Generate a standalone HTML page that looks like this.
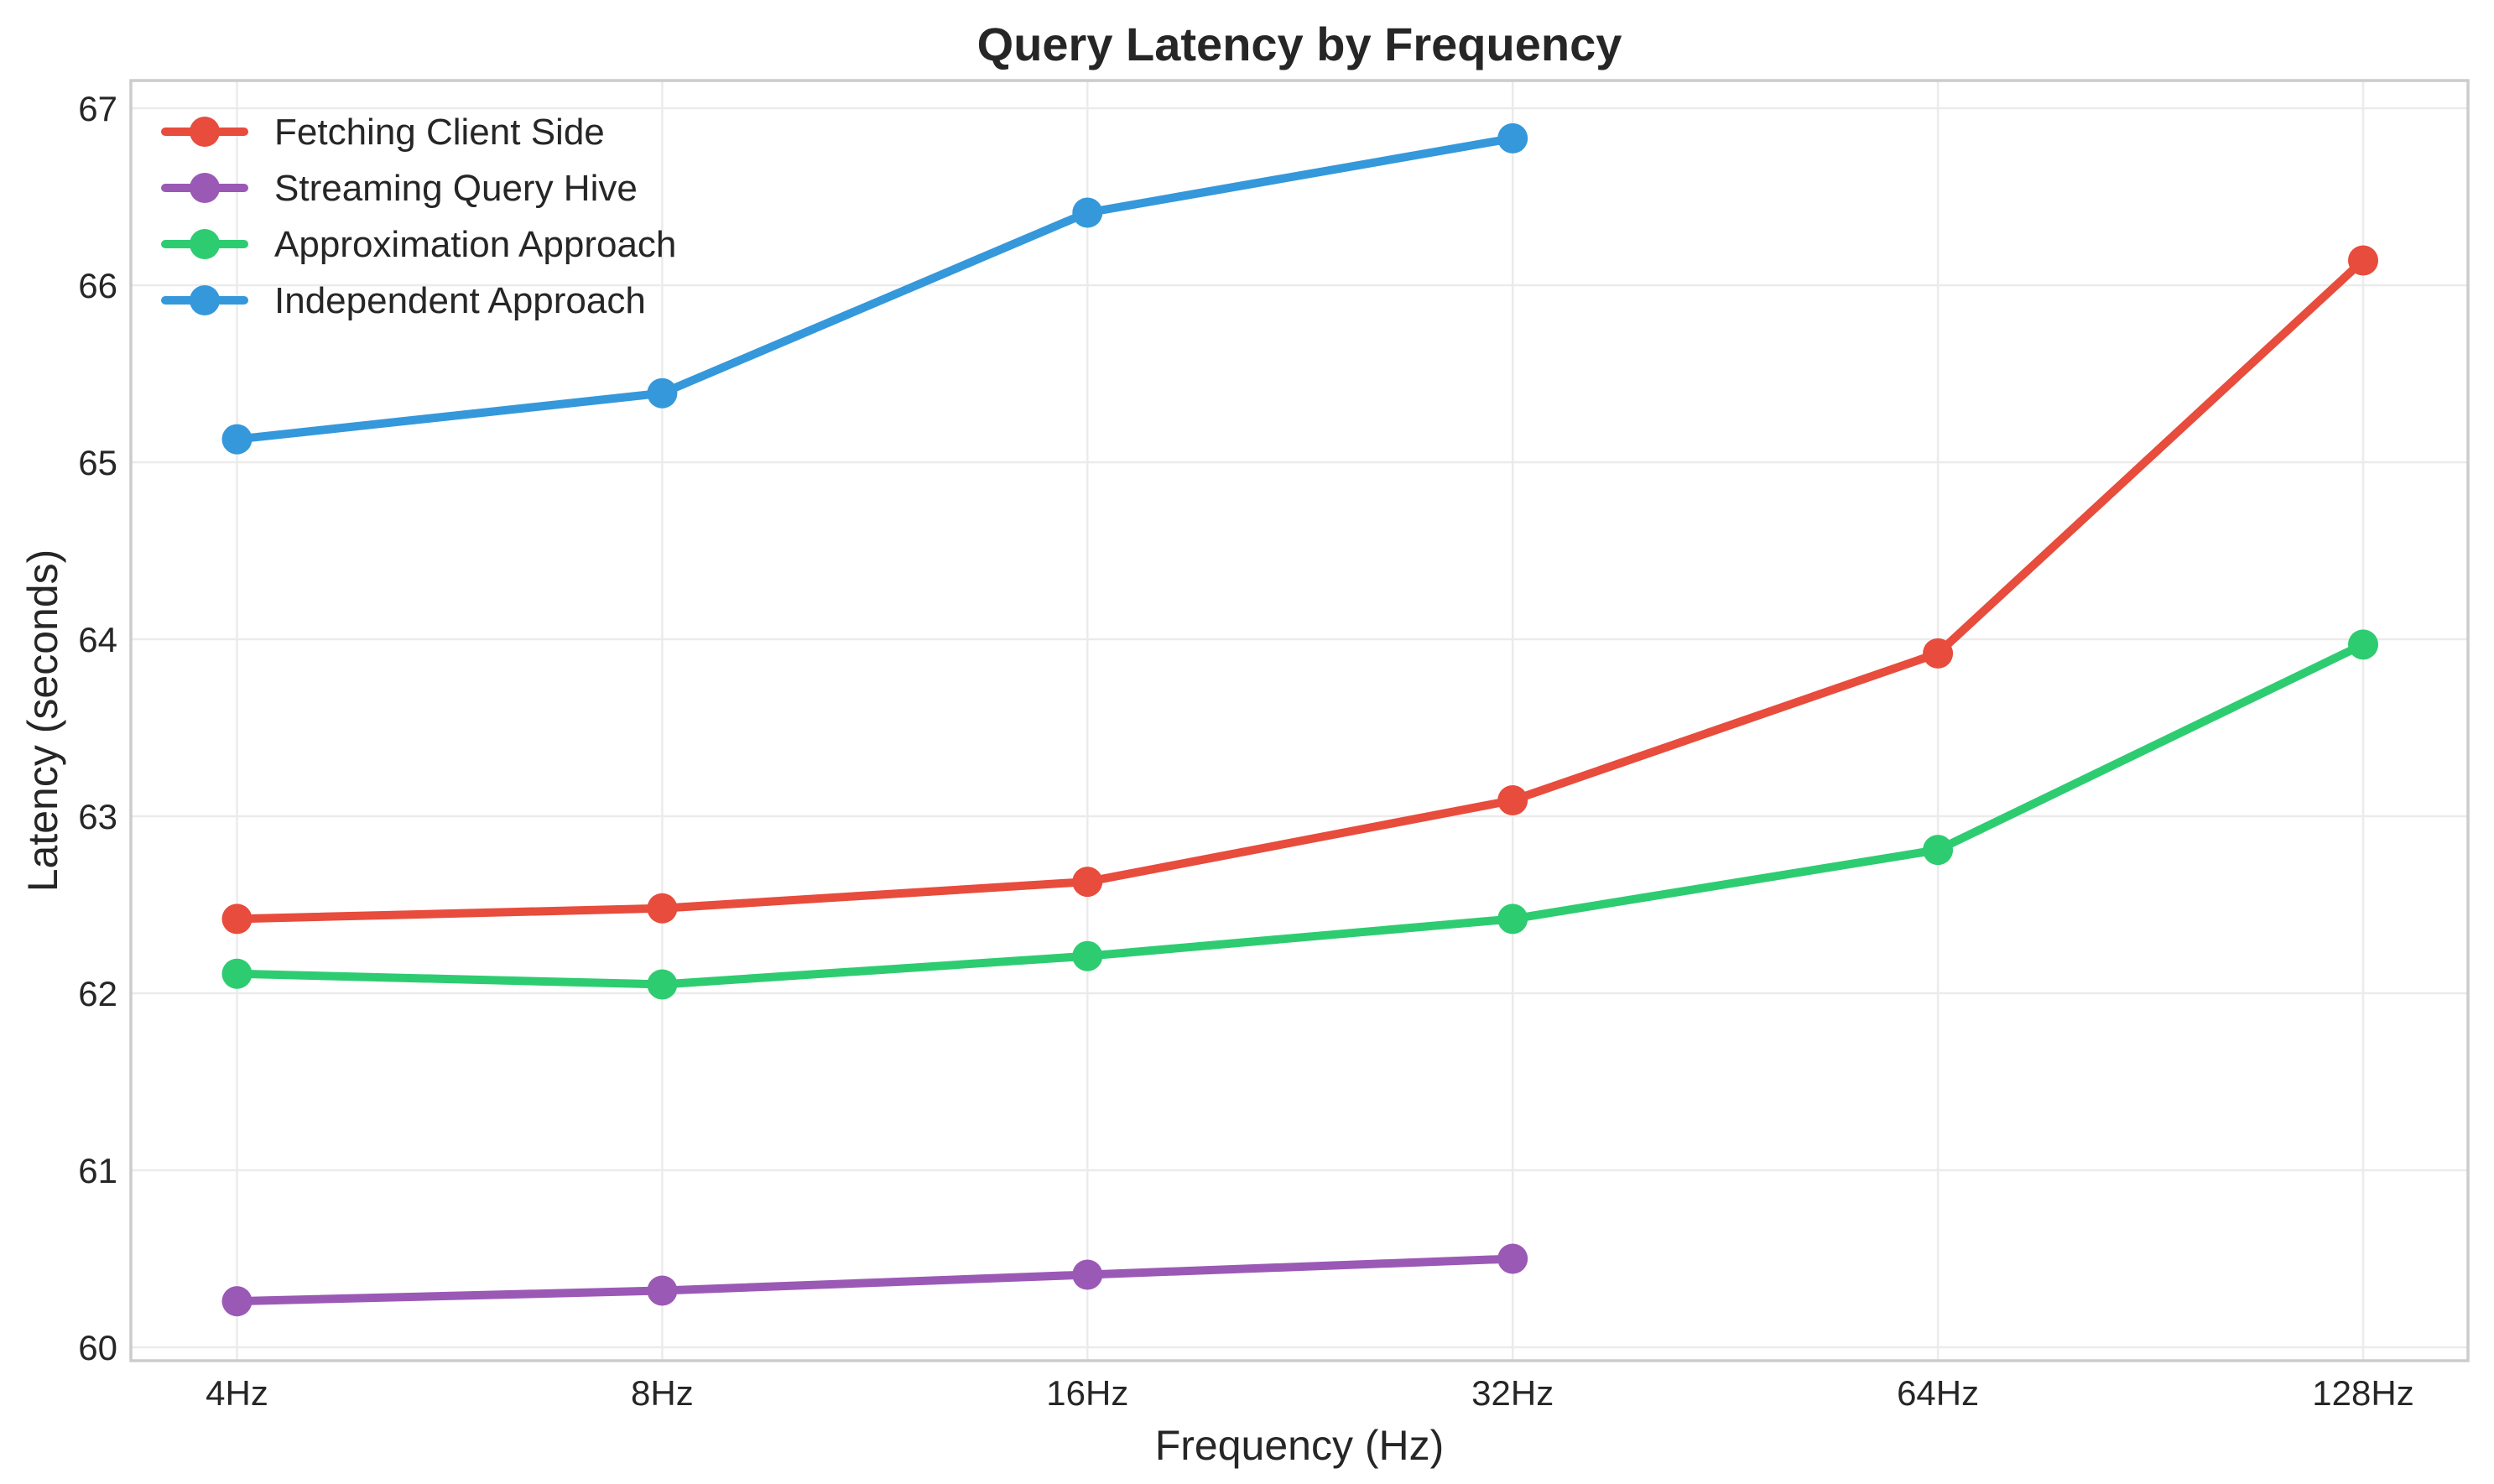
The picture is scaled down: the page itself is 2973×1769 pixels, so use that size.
<!DOCTYPE html>
<html><head><meta charset="utf-8"><style>
html,body{margin:0;padding:0;background:#fff;}
svg{display:block;font-family:"Liberation Sans",Arial,sans-serif;}
</style></head><body>
<svg id="chart" width="2973" height="1769" viewBox="0 0 2973 1769"></svg>
<script>
const categories = ["4Hz","8Hz","16Hz","32Hz","64Hz","128Hz"];
const yTicks = [60,61,62,63,64,65,66,67];
const fetchingClient = [62.42,62.48,62.63,63.09,63.92,66.14];
const streamingHive = [60.26,60.32,60.41,60.50];
const approximation = [62.11,62.05,62.21,62.42,62.81,63.97];
const independent = [65.13,65.39,66.41,66.83];
const seriesNames = ["Fetching Client Side","Streaming Query Hive","Approximation Approach","Independent Approach"];
const seriesColors = ["#e74c3c","#9b59b6","#2ecc71","#3498db"];

const NS="http://www.w3.org/2000/svg";
const svg=document.getElementById('chart');
const L=156,R=2942,T=96,B=1622;
const x0=282.5,dx=506.9;
function xS(i){return x0+i*dx;}
function yS(v){return 1606-(v-60)*211;}
function mk(tag,attrs,parent){const e=document.createElementNS(NS,tag);for(const k in attrs)e.setAttribute(k,attrs[k]);(parent||svg).appendChild(e);return e;}

yTicks.forEach(v=>{
  const g=mk('line',{x1:L,x2:R,y1:yS(v),y2:yS(v),stroke:'#ebebeb','stroke-width':2.5});
  
  
  const t=mk('text',{x:140,y:yS(v)+15,'text-anchor':'end','font-size':42,fill:'#262626'});
  t.textContent=v;
  
  
});
categories.forEach((c,i)=>{
  const g=mk('line',{x1:xS(i),x2:xS(i),y1:T,y2:B,stroke:'#ebebeb','stroke-width':2.5});
  
  
  const t=mk('text',{x:xS(i),y:1675,'text-anchor':'middle','font-size':42,fill:'#262626'});
  t.textContent=c;
  
  
});
const frame=mk('rect',{x:L,y:T,width:R-L,height:B-T,fill:'none',stroke:'#cccccc','stroke-width':3.5});



const allSeries=[fetchingClient,streamingHive,approximation,independent];
allSeries.forEach((vals,si)=>{
  const g=mk('g',{});
  
  
  const pts=vals.map((v,i)=>xS(i)+','+yS(v)).join(' ');
  const pl=mk('polyline',{points:pts,fill:'none',stroke:seriesColors[si],'stroke-width':10,'stroke-linejoin':'round','stroke-linecap':'round'},g);
  
  
  vals.forEach((v,i)=>{
    const c=mk('circle',{cx:xS(i),cy:yS(v),r:18,fill:seriesColors[si]},g);
    
    
  });
});

const lg=mk('g',{});


const ly=[157,224,291,358];
seriesNames.forEach((n,i)=>{
  const e=mk('g',{},lg);
  
  
  mk('line',{x1:197,x2:291,y1:ly[i],y2:ly[i],stroke:seriesColors[i],'stroke-width':10,'stroke-linecap':'round'},e);
  mk('circle',{cx:244,cy:ly[i],r:18,fill:seriesColors[i]},e);
  const t=mk('text',{x:327,y:ly[i]+15,'font-size':44,fill:'#262626'},e);
  t.textContent=n;
});

const title=mk('text',{x:1549,y:72,'text-anchor':'middle','font-size':56,'font-weight':'bold',fill:'#262626'});
title.textContent='Query Latency by Frequency';


const xl=mk('text',{x:1549,y:1740,'text-anchor':'middle','font-size':50,fill:'#262626'});
xl.textContent='Frequency (Hz)';


const yl=mk('text',{x:0,y:0,'text-anchor':'middle','font-size':50,fill:'#262626',transform:'translate(68,859) rotate(-90)'});
yl.textContent='Latency (seconds)';


</script>
</body></html>
